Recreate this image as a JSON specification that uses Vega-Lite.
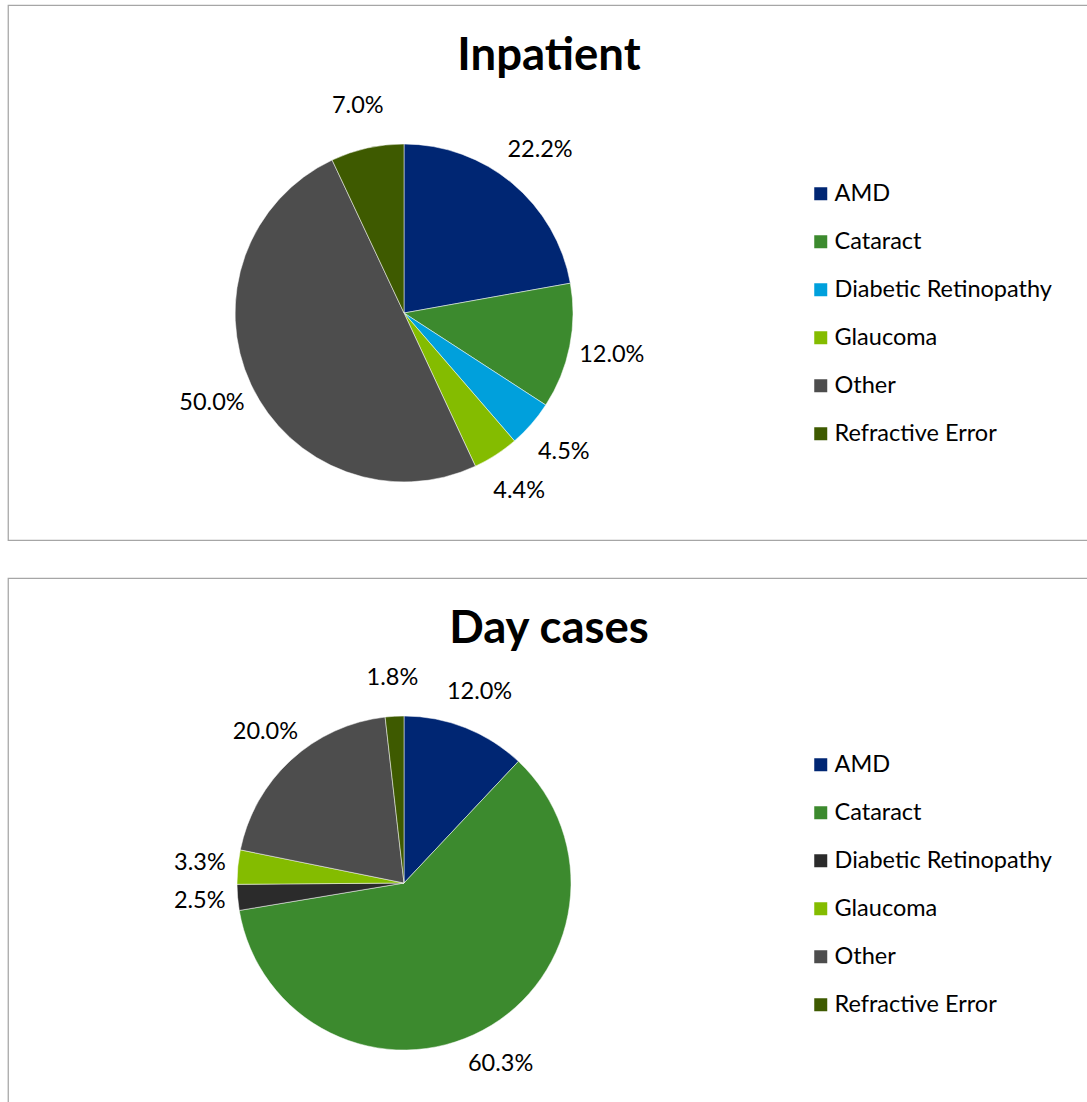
{
  "$schema": "https://vega.github.io/schema/vega-lite/v6.json",
  "padding": {"left": 7, "top": 4, "right": 0, "bottom": 0},
  "background": "white",
  "spacing": 36,
  "config": {
    "font": "Lato",
    "view": {"stroke": "#A6A6A6", "strokeWidth": 1.25},
    "title": {"font": "Lato", "fontSize": 45.5, "fontWeight": "bold", "color": "#000000"},
    "legend": {
      "orient": "none",
      "title": null,
      "symbolType": "square",
      "symbolSize": 169,
      "symbolStrokeWidth": 0,
      "labelFont": "Lato",
      "labelFontSize": 23.5,
      "labelColor": "#000000",
      "rowPadding": 23,
      "labelOffset": 2,
      "labelLimit": 400
    }
  },
  "resolve": {"scale": {"color": "independent"}, "legend": {"color": "independent"}},
  "vconcat": [
    {
      "width": 1082,
      "height": 535,
      "view": {"stroke": "#A6A6A6", "strokeWidth": 1.25, "fill": "white"},
      "title": {"text": "Inpatient", "anchor": "middle", "frame": "group", "baseline": "alphabetic", "offset": -110},
      "data": {
        "values": [
          {"cause": "AMD", "share": 22.2, "label": "22.2%"},
          {"cause": "Cataract", "share": 12.0, "label": "12.0%"},
          {"cause": "Diabetic Retinopathy", "share": 4.5, "label": "4.5%"},
          {"cause": "Glaucoma", "share": 4.4, "label": "4.4%"},
          {"cause": "Other", "share": 50.0, "label": "50.0%"},
          {"cause": "Refractive Error", "share": 7.0, "label": "7.0%"}
        ]
      },
      "layer": [
        {
          "mark": {"type": "arc", "x": 396, "y": 308, "outerRadius": 169, "stroke": "white", "strokeWidth": 0.5},
          "encoding": {
            "theta": {"field": "share", "type": "quantitative", "stack": true},
            "order": {"field": "cause", "type": "ordinal"},
            "color": {
              "field": "cause",
              "type": "nominal",
              "scale": {
                "domain": ["AMD", "Cataract", "Diabetic Retinopathy", "Glaucoma", "Other", "Refractive Error"],
                "range": ["#002673", "#3C8A2E", "#00A0DC", "#84BC00", "#4D4D4D", "#3E5A00"]
              },
              "legend": {"legendX": 801, "legendY": 177}
            }
          }
        },
        {
          "mark": {"type": "text", "x": 396, "y": 308, "radius": 212, "fontSize": 23.5, "font": "Lato", "color": "#000000"},
          "encoding": {
            "theta": {"field": "share", "type": "quantitative", "stack": true},
            "order": {"field": "cause", "type": "ordinal"},
            "text": {"field": "label", "type": "nominal"}
          }
        }
      ]
    },
    {
      "width": 1082,
      "height": 535,
      "view": {"stroke": "#A6A6A6", "strokeWidth": 1.25, "fill": "white"},
      "title": {"text": "Day cases", "anchor": "middle", "frame": "group", "baseline": "alphabetic", "offset": -110},
      "data": {
        "values": [
          {"cause": "AMD", "share": 12.0, "label": "12.0%"},
          {"cause": "Cataract", "share": 60.3, "label": "60.3%"},
          {"cause": "Diabetic Retinopathy", "share": 2.5, "label": "2.5%"},
          {"cause": "Glaucoma", "share": 3.3, "label": "3.3%"},
          {"cause": "Other", "share": 20.0, "label": "20.0%"},
          {"cause": "Refractive Error", "share": 1.8, "label": "1.8%"}
        ]
      },
      "layer": [
        {
          "mark": {"type": "arc", "x": 396, "y": 305, "outerRadius": 167, "stroke": "white", "strokeWidth": 0.5},
          "encoding": {
            "theta": {"field": "share", "type": "quantitative", "stack": true},
            "order": {"field": "cause", "type": "ordinal"},
            "color": {
              "field": "cause",
              "type": "nominal",
              "scale": {
                "domain": ["AMD", "Cataract", "Diabetic Retinopathy", "Glaucoma", "Other", "Refractive Error"],
                "range": ["#002673", "#3C8A2E", "#2B2B2B", "#84BC00", "#4D4D4D", "#3E5A00"]
              },
              "legend": {"legendX": 801, "legendY": 175}
            }
          }
        },
        {
          "mark": {"type": "text", "x": 396, "y": 305, "radius": 205, "fontSize": 23.5, "font": "Lato", "color": "#000000"},
          "encoding": {
            "theta": {"field": "share", "type": "quantitative", "stack": true},
            "order": {"field": "cause", "type": "ordinal"},
            "text": {"field": "label", "type": "nominal"}
          }
        }
      ]
    }
  ]
}
